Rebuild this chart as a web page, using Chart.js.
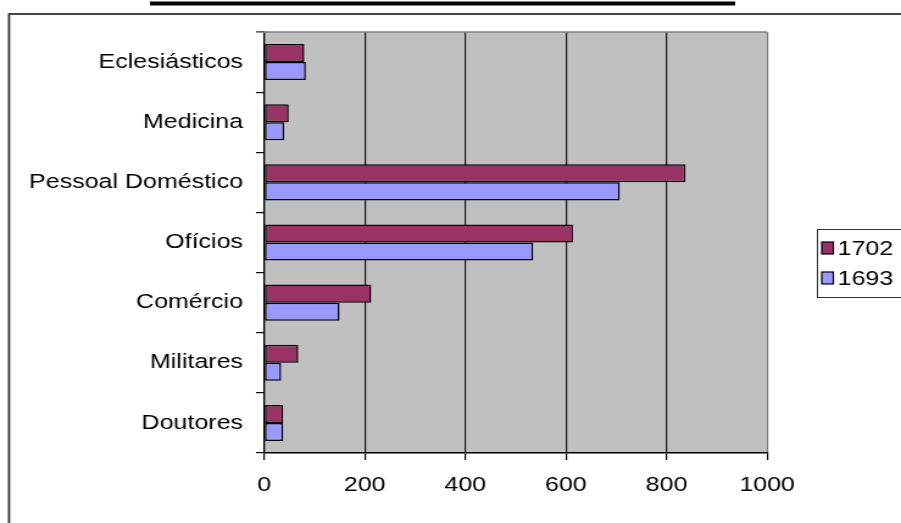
<!DOCTYPE html>
<html>
<head>
<meta charset="utf-8">
<script src="https://cdn.jsdelivr.net/npm/chart.js@4.4.1/dist/chart.umd.min.js"></script>
<style>
  html, body { margin: 0; padding: 0; background: #fff; overflow: hidden; }
  /* the sheet is drawn narrow and widened, as the exported picture was */
  #wrap {
    position: absolute; left: 0; top: 0;
    width: 739px; height: 523px;
    transform: scaleX(1.2192); transform-origin: 0 0;
  }
</style>
</head>
<body>
<div id="wrap"><canvas id="chart"></canvas></div>
<script>
const categories   = ['Eclesiásticos', 'Medicina', 'Pessoal Doméstico', 'Ofícios', 'Comércio', 'Militares', 'Doutores'];
const values1702   = [80, 49, 838, 614, 213, 68, 38];
const values1693   = [83, 40, 707, 535, 150, 34, 38];
const seriesLabels = ['1702', '1693'];
const seriesColors = ['#993366', '#9999ff'];
const xTickValues  = [0, 200, 400, 600, 800, 1000];

const FONT = { family: '"Liberation Sans", Arial, sans-serif', size: 20.5 };

// grey plot area, its grey top edge, the outer frame and the cut title rule
const decor = {
    id: 'decor',
    beforeDatasetsDraw(chart) {
        const { ctx, chartArea: a } = chart;
        ctx.save();
        ctx.strokeStyle = '#808080';
        ctx.lineWidth = 1.5;
        ctx.beginPath();
        ctx.moveTo(a.left - 6.6, a.top);
        ctx.lineTo(a.right, a.top);
        ctx.stroke();
        ctx.restore();
    },
    beforeDraw(chart) {
        const { ctx, chartArea: a } = chart;
        ctx.save();
        ctx.fillStyle = '#fff';
        ctx.fillRect(0, 0, chart.width, chart.height);
        ctx.fillStyle = '#c0c0c0';
        ctx.fillRect(a.left, a.top, a.right - a.left, a.bottom - a.top);
        ctx.restore();
    },
    afterDraw(chart) {
        const { ctx } = chart;
        ctx.save();
        ctx.fillStyle = '#000';
        ctx.fillRect(123, 1.5, 480, 4);
        ctx.strokeStyle = '#333';
        ctx.lineWidth = 1.8;
        ctx.strokeRect(7.4, 14, 800, 600);
        ctx.restore();
    }
};

// boxed legend on the right, partly outside the frame
const boxLegend = {
    id: 'boxLegend',
    afterDraw(chart) {
        const { ctx } = chart;
        const x = 670, top = 229, bottom = 297;
        ctx.save();
        ctx.fillStyle = '#fff';
        ctx.fillRect(x, top, 100, bottom - top);
        ctx.strokeStyle = '#333';
        ctx.lineWidth = 1;
        ctx.strokeRect(x + 0.5, top + 0.5, 100, bottom - top);
        ctx.font = `${FONT.size}px ${FONT.family}`;
        ctx.textBaseline = 'middle';
        chart.data.datasets.forEach((ds, i) => {
            const y = 248 + i * 30;
            ctx.fillStyle = ds.backgroundColor;
            ctx.fillRect(674, y - 6, 9.5, 12);
            ctx.strokeStyle = '#000';
            ctx.lineWidth = 1.2;
            ctx.strokeRect(674, y - 6, 9.5, 12);
            ctx.fillStyle = '#000';
            ctx.fillText(ds.label, 687, y + 1);
        });
        ctx.restore();
    }
};

new Chart(document.getElementById('chart'), {
    type: 'bar',
    data: {
        labels: categories,
        datasets: [
            { label: seriesLabels[0], data: values1702, backgroundColor: seriesColors[0] },
            { label: seriesLabels[1], data: values1693, backgroundColor: seriesColors[1] }
        ].map(d => ({ ...d, borderColor: '#000', borderWidth: 1.5, borderSkipped: false,
                      categoryPercentage: 0.6, barPercentage: 1 }))
    },
    options: {
        indexAxis: 'y',
        responsive: true,
        maintainAspectRatio: false,
        animation: false,
        layout: { padding: { top: 32, right: 109.8, left: 0, bottom: 0 } },
        plugins: {
            legend: { display: false },
            tooltip: { enabled: false }
        },
        scales: {
            x: {
                min: 0,
                max: 1000,
                afterBuildTicks: s => { s.ticks = xTickValues.map(v => ({ value: v })); },
                afterFit: s => { s.height = 70; },
                ticks: { color: '#000', font: FONT, padding: 13, maxRotation: 0, callback: v => String(v) },
                grid: {
                    color: c => c.tick && c.tick.value === 1000 ? '#808080' : '#1a1a1a',
                    tickColor: '#000',
                    tickLength: 7,
                    lineWidth: 1.2
                },
                border: { color: '#000', width: 1.5 }
            },
            y: {
                afterFit: s => { s.width = 216.6; },
                ticks: { color: '#000', font: FONT, padding: 10.7 },
                grid: {
                    offset: true,
                    drawOnChartArea: false,
                    tickLength: 6.6,
                    color: '#000',
                    lineWidth: 1.2
                },
                border: { color: '#000', width: 1.2 }
            }
        }
    },
    plugins: [decor, boxLegend]
});
</script>
</body>
</html>
